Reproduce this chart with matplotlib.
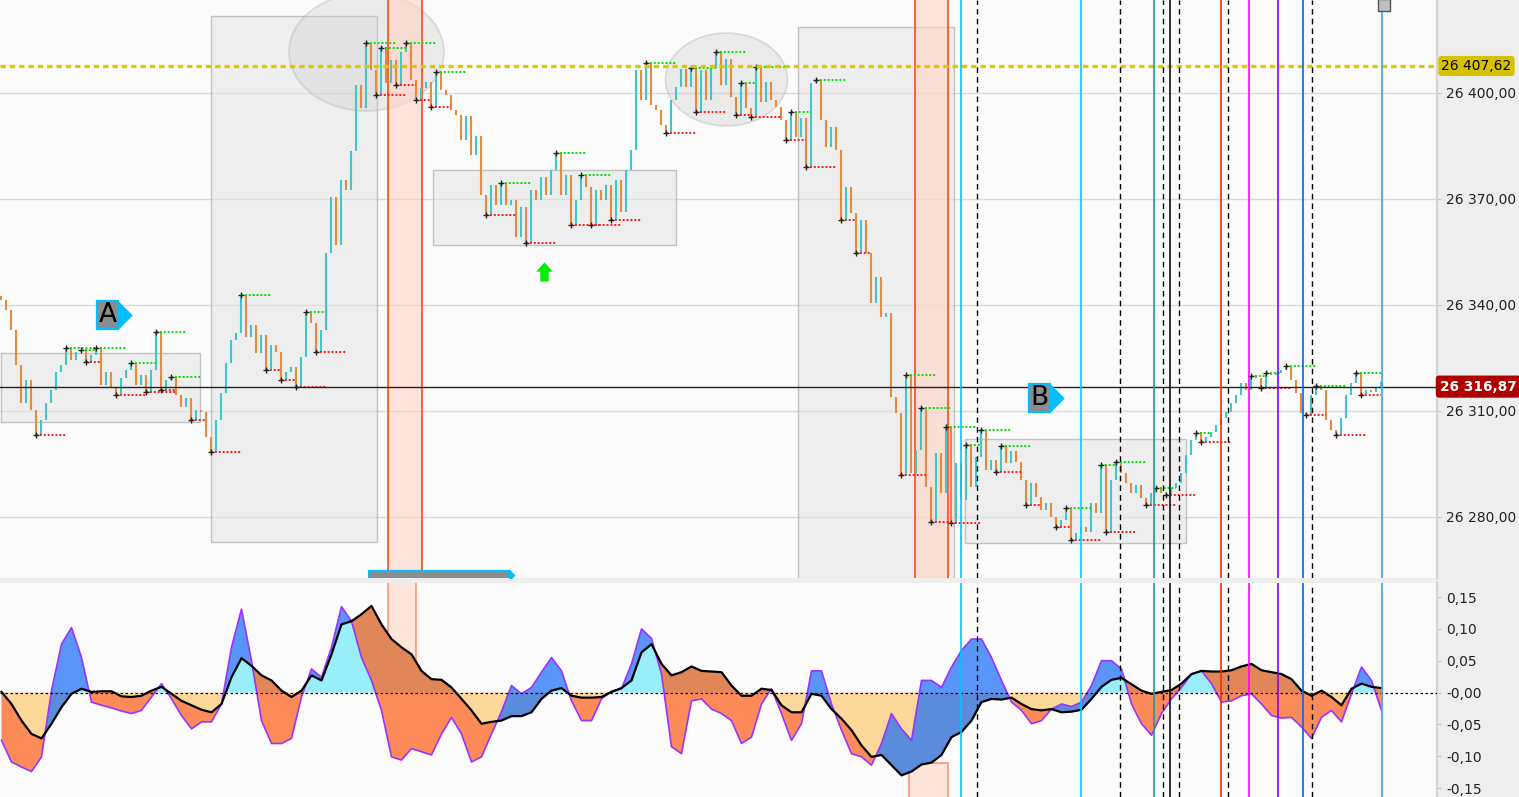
import matplotlib.pyplot as plt
import numpy as np
from matplotlib.patches import Rectangle, Ellipse
from matplotlib.transforms import blended_transform_factory

# close of each bar (range bars, one every 5 px in the reference)
closes = [
    26341.4, 26338.6, 26332.9, 26323.0, 26312.2, 26318.7, 26310.3, 26303.2, 26307.4, 26312.2,
    26315.9, 26321.0, 26323.0, 26327.8, 26324.4, 26326.7, 26327.2, 26323.8, 26325.8, 26327.8,
    26317.3, 26321.0, 26316.5, 26314.5, 26319.3, 26321.6, 26323.6, 26317.3, 26320.2, 26315.3,
    26321.6, 26332.3, 26315.9, 26318.7, 26319.6, 26314.5, 26311.1, 26313.6, 26307.4, 26310.3,
    26309.7, 26302.6, 26298.4, 26307.4, 26315.1, 26323.6, 26330.1, 26332.0, 26342.8, 26330.9,
    26334.3, 26326.4, 26331.5, 26321.6, 26328.7, 26326.7, 26318.7, 26321.0, 26322.4, 26316.8,
    26325.3, 26338.0, 26334.9, 26326.7, 26332.9, 26354.7, 26370.5, 26357.0, 26375.4, 26372.5,
    26383.6, 26402.2, 26395.7, 26414.1, 26406.5, 26399.4, 26412.7, 26402.8, 26409.3, 26402.2,
    26411.6, 26414.1, 26403.7, 26398.0, 26401.4, 26403.1, 26396.0, 26405.9, 26400.8, 26399.4,
    26395.2, 26393.8, 26386.7, 26393.5, 26382.4, 26387.8, 26371.1, 26365.4, 26373.9, 26368.3,
    26374.5, 26368.3, 26369.7, 26359.2, 26367.7, 26357.5, 26372.5, 26369.7, 26376.2, 26371.1,
    26378.2, 26383.0, 26371.1, 26376.8, 26362.6, 26369.7, 26376.8, 26373.4, 26362.6, 26372.5,
    26369.7, 26373.9, 26364.0, 26375.4, 26366.3, 26378.2, 26383.8, 26406.5, 26398.0, 26408.5,
    26396.6, 26395.2, 26390.9, 26388.7, 26398.0, 26401.7, 26406.8, 26401.7, 26407.1, 26394.6,
    26406.5, 26398.0, 26407.1, 26411.6, 26402.2, 26409.6, 26398.8, 26393.8, 26402.8, 26395.7,
    26393.2, 26407.3, 26397.4, 26403.1, 26398.0, 26396.0, 26392.3, 26386.7, 26394.6, 26387.5,
    26392.9, 26379.0, 26402.8, 26403.7, 26392.3, 26384.7, 26390.4, 26383.8, 26364.0, 26373.4,
    26366.0, 26354.7, 26364.0, 26354.7, 26340.5, 26347.9, 26336.6, 26337.7, 26313.9, 26309.4,
    26291.9, 26320.2, 26292.4, 26298.9, 26310.8, 26288.5, 26278.6, 26298.1, 26286.8, 26305.4,
    26278.3, 26295.3, 26284.8, 26300.3, 26288.5, 26296.9, 26304.6, 26293.3, 26296.1, 26292.7,
    26300.1, 26295.3, 26298.6, 26295.5, 26290.4, 26283.4, 26289.6, 26285.6, 26281.9, 26283.9,
    26280.0, 26277.1, 26279.1, 26282.5, 26273.5, 26275.4, 26277.1, 26275.7, 26283.9, 26281.1,
    26294.7, 26275.7, 26290.4, 26295.5, 26292.4, 26289.6, 26286.8, 26289.0, 26285.3, 26283.4,
    26286.8, 26288.2, 26286.8, 26286.2, 26288.2, 26289.6, 26292.4, 26297.5, 26301.8, 26303.7,
    26301.2, 26302.6, 26304.0, 26306.0, 26308.0, 26309.7, 26312.2, 26314.5, 26317.9, 26315.9,
    26319.9, 26319.3, 26316.5, 26320.7, 26320.2, 26320.7, 26321.6, 26322.7, 26318.7, 26315.1,
    26309.4, 26308.8, 26314.5, 26317.0, 26315.9, 26307.4, 26304.6, 26303.2, 26308.0, 26314.5,
    26317.9, 26320.7, 26314.5, 26315.9, 26315.3, 26316.8, 26318.2,
]

# oscillator, one value every 2 bars
fast = [
    -0.075, -0.109, -0.117, -0.124, -0.101, 0.003, 0.076, 0.102, 0.055, -0.015,
    -0.020, -0.024, -0.029, -0.033, -0.028, -0.007, 0.014, -0.010, -0.036, -0.057,
    -0.046, -0.046, -0.018, 0.071, 0.131, 0.050, -0.044, -0.080, -0.080, -0.072,
    -0.007, 0.037, 0.024, 0.071, 0.135, 0.112, 0.055, 0.019, -0.028, -0.101,
    -0.106, -0.088, -0.093, -0.098, -0.065, -0.039, -0.065, -0.109, -0.101, -0.065,
    -0.030, 0.011, -0.002, 0.008, 0.032, 0.055, 0.034, -0.013, -0.044, -0.044,
    -0.010, 0.002, 0.006, 0.045, 0.100, 0.085, 0.029, -0.085, -0.096, -0.013,
    -0.010, -0.026, -0.033, -0.044, -0.080, -0.070, -0.018, 0.006, -0.033, -0.075,
    -0.049, 0.034, 0.034, -0.018, -0.059, -0.096, -0.101, -0.114, -0.080, -0.033,
    -0.057, -0.075, 0.019, 0.019, 0.008, 0.040, 0.066, 0.084, 0.084, 0.055,
    0.019, -0.015, -0.028, -0.049, -0.044, -0.026, -0.018, -0.022, -0.015, 0.011,
    0.050, 0.050, 0.037, -0.018, -0.049, -0.067, -0.033, -0.010, 0.008, 0.029,
    0.034, 0.014, -0.015, -0.013, -0.005, -0.002, -0.018, -0.036, -0.040, -0.039,
    -0.054, -0.072, -0.039, -0.028, -0.046, -0.002, 0.040, 0.019, -0.028,
]
slow = [
    0.001, -0.018, -0.044, -0.065, -0.072, -0.049, -0.023, -0.002, 0.006, 0.001,
    0.002, 0.002, -0.006, -0.007, -0.005, 0.003, 0.009, -0.002, -0.013, -0.020,
    -0.027, -0.031, -0.018, 0.024, 0.054, 0.042, 0.027, 0.019, 0.003, -0.007,
    0.003, 0.027, 0.019, 0.060, 0.107, 0.112, 0.123, 0.136, 0.107, 0.084,
    0.071, 0.060, 0.034, 0.021, 0.020, 0.008, -0.010, -0.028, -0.049, -0.046,
    -0.044, -0.037, -0.037, -0.031, -0.010, 0.003, 0.007, -0.005, -0.008, -0.008,
    -0.007, 0.001, 0.007, 0.019, 0.063, 0.076, 0.045, 0.027, 0.032, 0.041,
    0.034, 0.033, 0.032, 0.011, -0.005, -0.005, 0.006, 0.004, -0.020, -0.031,
    -0.031, -0.002, -0.005, -0.026, -0.041, -0.059, -0.083, -0.101, -0.098, -0.114,
    -0.130, -0.124, -0.113, -0.110, -0.098, -0.070, -0.062, -0.044, -0.015, -0.010,
    -0.011, -0.008, -0.018, -0.026, -0.028, -0.026, -0.031, -0.030, -0.027, -0.010,
    0.009, 0.020, 0.023, 0.013, 0.003, -0.002, 0.001, 0.004, 0.014, 0.029,
    0.034, 0.033, 0.033, 0.035, 0.041, 0.045, 0.035, 0.032, 0.029, 0.021,
    0.003, -0.005, 0.003, -0.007, -0.020, 0.006, 0.014, 0.009, 0.007,
]

price_ticks = [26280, 26310, 26340, 26370, 26400]
price_labels = ["26 280,00", "26 310,00", "26 340,00", "26 370,00", "26 400,00"]
osc_ticks = [-0.15, -0.10, -0.05, 0.0, 0.05, 0.10, 0.15]
osc_labels = ["-0,15", "-0,10", "-0,05", "-0,00", "0,05", "0,10", "0,15"]

level_price = 26407.62
last_price = 26316.87

# drawn objects, positions in bars / prices
zones = [(0, 39.8, 26326.4, 26306.9), (42, 75.2, 26421.8, 26272.9),
         (86.4, 135, 26378.2, 26357.0), (159.4, 190.6, 26418.7, 26250.0),
         (192.8, 237, 26302.1, 26272.6)]
circles = [(73, 26411.6, 31, 33.4), (145, 26403.8, 24.4, 26.3)]
bands = [(77.4, 84.2), (182.8, 189.4)]
event_bars = [192.0, 216.0, 230.6, 233.8, 244.0, 249.6, 255.4, 260.4, 276.2]
event_colors = ['#00c4ff', '#00ccff', '#12a0a0', '#111111', '#ff2a00',
                '#ff00ff', '#8a00ff', '#0066ff', '#30a8ee']
dashed_bars = [195.1, 223.8, 232.4, 235.6, 245.4, 262.2]
tags = [("A", 21.2, 26337.1), ("B", 207.6, 26313.6)]

UP = '#3ec8c8'
DOWN = '#e88a3c'

fig = plt.figure(figsize=(15.19, 7.97), dpi=100, facecolor='#eeeeee')
ax1 = fig.add_axes([0, 219 / 797, 1437 / 1519, 578 / 797])
ax2 = fig.add_axes([0, 0, 1437 / 1519, 214 / 797])
xmax = 287.1

for ax in (ax1, ax2):
    ax.set_facecolor('#fbfbfb')
    ax.set_xlim(-0.3, xmax)
    ax.set_xticks([])
    for sp in ('top', 'left', 'bottom'):
        ax.spines[sp].set_visible(False)
    ax.spines['right'].set_color('#d4d4d4')
    ax.spines['right'].set_linewidth(1.5)
    ax.yaxis.tick_right()
    ax.tick_params(axis='y', length=3, color='#c4c4c4', labelsize=10,
                   pad=3.5, labelcolor='#222222')

# ---- price panel ----
ax1.set_ylim(26262.7, 26426.3)
ax1.set_yticks(price_ticks)
ax1.set_yticklabels(price_labels)
ax1.grid(axis='y', color='#d9d9d9', lw=1)
ax1.set_axisbelow(True)

for x0, x1, top, bot in zones:
    ax1.add_patch(Rectangle((x0, bot), x1 - x0, top - bot, fc='#e4e4e4', alpha=0.55,
                            ec='#999999', lw=1, zorder=1))
for cx, cy, w, h in circles:
    ax1.add_patch(Ellipse((cx, cy), w, h, fc='#cccccc', alpha=0.35, ec='#aaaaaa',
                          lw=1.2, zorder=1))
for x0, x1 in bands:
    ax1.axvspan(x0, x1, fc='#ffd4c4', alpha=0.6, ec='none', zorder=1.5)
    ax1.axvline(x0, color='#ff4a10', lw=1.2, zorder=1.6)
    ax1.axvline(x1, color='#ff4a10', lw=1.2, zorder=1.6)

c = np.array(closes)
n = len(c)
xs = np.arange(n)
opens = np.r_[c[0] + 1.0, c[:-1]]
cols = [UP if c[i] >= opens[i] else DOWN for i in range(n)]
ax1.vlines(xs, np.minimum(opens, c), np.maximum(opens, c), colors=cols, lw=1.5, zorder=3)

# swing points with short dotted levels
for i in range(2, n - 2):
    win = c[i - 2:i + 3]
    if c[i] == win.max() or c[i] == win.min():
        is_high = c[i] == win.max()
        j = i + 1
        while j < n - 1 and j - i < 6 and ((c[j] <= c[i]) if is_high else (c[j] >= c[i])):
            j += 1
        ax1.hlines(c[i], i, j, colors='#00e000' if is_high else '#ff1a1a',
                   linestyles=(0, (1, 1)), lw=1.4, zorder=4)
        ax1.plot(i, c[i], '+', color='#222222', ms=4, mew=1, zorder=5)

ax1.axhline(level_price, color='#e0c800', lw=2.4, ls=(0, (1.6, 1.2)), zorder=6)
ax1.axhline(last_price, color='#222222', lw=1, zorder=6)

tri = [(-0.5, 1), (0.5, 0), (-0.5, -1), (-0.5, 1)]
for label, tx, ty in tags:
    ax1.text(tx, ty, label, ha='center', va='center', fontsize=19, color='black', zorder=8,
             bbox=dict(boxstyle='square,pad=0.04', fc='#8c8c8c', ec='#00bfff', lw=1.6))
    ax1.plot(tx + 3.5, ty, marker=tri, ms=21, color='#00bfff', mec='none', zorder=8)

ax1.annotate('', xy=(108.6, 26352.0), xytext=(108.6, 26346.6), zorder=8,
             arrowprops=dict(arrowstyle='simple,head_width=1.0,head_length=0.55,tail_width=0.5',
                             color='#00ee00', lw=0, mutation_scale=12,
                             shrinkA=0, shrinkB=0))

# label half hidden at the bottom
ax1.add_patch(Rectangle((73.6, 26255), 28, 9.8, fc='#8c8c8c', ec='#00bfff', lw=1.6, zorder=8))
ax1.plot(102.2, 26263.5, marker=tri, ms=9, color='#00bfff', mec='none', zorder=8)

ax1.plot(276.6, 26425.0, marker='s', ms=8, color='#c0c0c0', mec='#555555', mew=1,
         zorder=9, clip_on=False)

tr = blended_transform_factory(ax1.transAxes, ax1.transData)
ax1.text(1.003, level_price, '26 407,62', transform=tr, ha='left', va='center', fontsize=10,
         color='black', zorder=10, clip_on=False,
         bbox=dict(boxstyle='round,pad=0.22,rounding_size=0.25', fc='#d8c200', ec='none'))
ax1.text(1.002, last_price, '26 316,87', transform=tr, ha='left', va='center', fontsize=9.8,
         color='white', fontweight='bold', zorder=10, clip_on=False,
         bbox=dict(boxstyle='round,pad=0.3,rounding_size=0.25', fc='#b00000', ec='none'))

# ---- oscillator panel ----
ax2.set_ylim(-0.164, 0.172)
ax2.set_yticks(osc_ticks)
ax2.set_yticklabels(osc_labels)

f = np.array(fast)
s = np.array(slow)
xi = np.arange(len(f)) * 2
ax2.fill_between(xi, 0, s, where=s >= 0, interpolate=True, color='#98eefa', lw=0, zorder=2)
ax2.fill_between(xi, 0, s, where=s <= 0, interpolate=True, color='#fdd89a', lw=0, zorder=2)
ax2.fill_between(xi, s, f, where=f >= s, interpolate=True, color='#166cf9', alpha=0.7, lw=0, zorder=3)
ax2.fill_between(xi, s, f, where=f <= s, interpolate=True, color='#ff5a14', alpha=0.7, lw=0, zorder=3)
ax2.plot(xi, f, color='#9933ff', lw=1.2, zorder=4)
ax2.plot(xi, s, color='black', lw=1.6, zorder=5)
ax2.axhline(0, color='black', lw=0.9, ls=(0, (2, 2)), zorder=5)

ax2.add_patch(Rectangle((77.4, 0.031), 5.6, 0.2, fc='#ffd4c4', alpha=0.55, ec='#ff4a10',
                        lw=1.2, zorder=1))
ax2.add_patch(Rectangle((181.6, -0.3), 7.8, 0.189, fc='#ffd4c4', alpha=0.55, ec='#ff4a10',
                        lw=1.2, zorder=1))

for ax in (ax1, ax2):
    for xb, col in zip(event_bars, event_colors):
        ax.axvline(xb, color=col, lw=1.2, zorder=7)
    for xb in dashed_bars:
        ax.axvline(xb, color='black', lw=1, ls=(0, (4, 3)), zorder=7)

fig.savefig('out.png', dpi=100, facecolor=fig.get_facecolor())
